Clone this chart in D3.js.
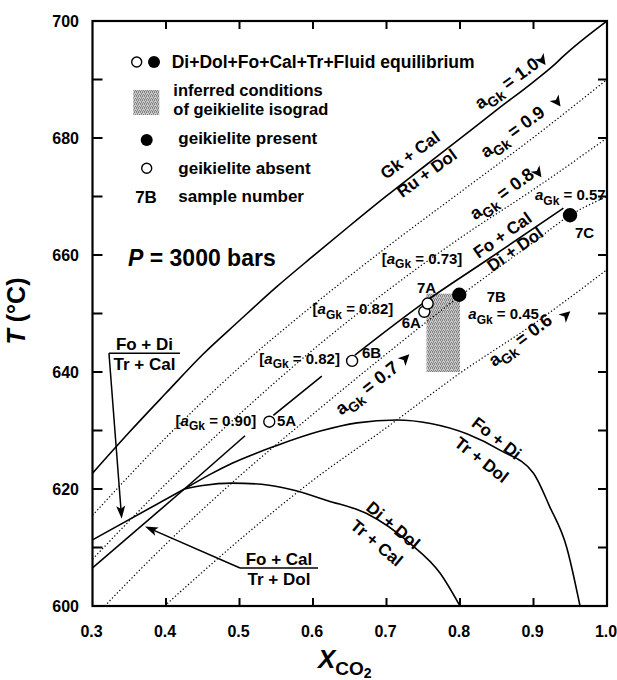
<!DOCTYPE html>
<html><head><meta charset="utf-8">
<script src="https://cdn.jsdelivr.net/npm/d3@7"></script>
<style>
body{margin:0;background:#fff;}
svg{display:block;font-family:"Liberation Sans",Arial,Helvetica,sans-serif;font-weight:bold;}
</style></head><body>
<svg id="chart" width="617" height="680"></svg>
<script>
// ---------------- data ----------------
const xTicks = [0.3,0.4,0.5,0.6,0.7,0.8,0.9,1.0];
const xTickLabels = ["0.3","0.4","0.5","0.6","0.7","0.8","0.9","1.0"];
const yTicks = [600,620,640,660,680,700];
const yMinorTicks = [610,630,650,670,690];

// Gk + Cal = Ru + Dol  (aGk = 1.0), [X_CO2, T]
const aGk10 = [[0.30,622.7],[0.35,629.7],[0.40,636.4],[0.45,643.0],[0.50,648.8],[0.55,654.5],[0.60,659.8],[0.65,665.0],[0.70,670.1],[0.75,675.0],[0.80,679.9],[0.85,684.8],[0.90,689.6],[0.93,692.7],[0.94,693.9],[1.00,700.0]];
const aGk09 = [[0.30,615.5],[0.40,628.8],[0.50,640.8],[0.60,651.4],[0.70,661.3],[0.80,670.7],[0.90,680.1],[1.00,690.0]];
const aGk08 = [[0.30,608.0],[0.40,620.9],[0.50,632.8],[0.60,643.8],[0.70,653.8],[0.80,662.9],[0.90,671.2],[1.00,680.0]];
const aGk07 = [[0.3166,600.0],[0.40,610.6],[0.50,622.2],[0.60,632.8],[0.70,643.1],[0.80,653.0],[0.90,662.2],[0.95,666.8],[1.00,670.0]];
const aGk06 = [[0.398,600.0],[0.50,611.3],[0.60,621.5],[0.70,630.5],[0.80,639.8],[0.90,648.2],[1.00,657.5]];

const foDi_trCal = [[0.30,611.3],[0.425,620.0]];
const foCal_trDol = [[0.30,606.5],[0.425,620.0]];
const foCal_diDol_a = [[0.425,620.0],[0.5075,629.1]];
const foCal_diDol_b = [[0.546,632.6],[0.612,639.3]];
const foCal_diDol_c = [[0.657,642.9],[0.7524,652.0],[0.8363,659.1],[0.9406,668.0]];
const foDi_trDol = [[0.425,620.0],[0.46,622.5],[0.49,624.4],[0.55,627.4],[0.61,629.9],[0.66,631.3],[0.714,631.8],[0.76,631.2],[0.81,629.4],[0.855,626.6],[0.90,622.7],[0.922,617.0],[0.945,610.1],[0.9633,600.0]];
const diDol_trCal = [[0.425,620.0],[0.45,620.6],[0.49,621.0],[0.53,620.8],[0.57,619.9],[0.62,618.0],[0.673,615.8],[0.732,610.7],[0.773,605.6],[0.80,600.0]];

const sampleIds = ["5A","6B","6A","7A","7B","7C"];
const sampleX = [0.5405,0.6532,0.7514,0.756,0.799,0.9497];
const sampleT = [631.5,641.9,650.3,651.7,653.2,666.8];
const samplePresent = [false,false,false,false,true,true];

const isogradX = [0.7544,0.800];
const isogradT = [640.0,653.4];

// ---------------- setup ----------------
const svg = d3.select("#chart");
const x = d3.scaleLinear().domain([0.3,1.0]).range([92.5,607]);
const y = d3.scaleLinear().domain([600,700]).range([606,21]);

const defs = svg.append("defs");
const pat = defs.append("pattern").attr("id","stip").attr("patternUnits","userSpaceOnUse").attr("width",4).attr("height",4);
pat.append("rect").attr("width",4).attr("height",4).attr("fill","#c8c8c8");
[[0,0],[2,0],[1,1],[3,2],[1,2],[0,3],[2,3]].forEach((p,i)=>{
  pat.append("rect").attr("x",p[0]).attr("y",p[1]).attr("width",1).attr("height",1).attr("fill",i%2?"#7a7a7a":"#8c8c8c");
});
defs.append("clipPath").attr("id","plotclip").append("rect")
  .attr("x",x(0.3)).attr("y",y(700)).attr("width",x(1)-x(0.3)).attr("height",y(600)-y(700));

const line = d3.line().x(d=>x(d[0])).y(d=>y(d[1]));
const smooth = d3.line().x(d=>x(d[0])).y(d=>y(d[1])).curve(d3.curveMonotoneX);

const plot = svg.append("g").attr("clip-path","url(#plotclip)");

// isograd shaded box
plot.append("rect")
  .attr("x",x(isogradX[0])).attr("y",y(isogradT[1]))
  .attr("width",x(isogradX[1])-x(isogradX[0])).attr("height",y(isogradT[0])-y(isogradT[1]))
  .attr("fill","url(#stip)");

// dotted isopleths
[aGk09,aGk08,aGk07,aGk06].forEach(d=>{
  plot.append("path").attr("d",smooth(d)).attr("fill","none").attr("stroke","#000")
    .attr("stroke-width",1.2).attr("stroke-dasharray","1.3 2.2");
});
// solid curves
plot.append("path").attr("d",smooth(aGk10)).attr("fill","none").attr("stroke","#000").attr("stroke-width",1.6);
[foDi_trCal,foCal_trDol,foCal_diDol_a,foCal_diDol_b].forEach(d=>{
  plot.append("path").attr("d",line(d)).attr("fill","none").attr("stroke","#000").attr("stroke-width",1.6);
});
[foCal_diDol_c,foDi_trDol,diDol_trCal].forEach(d=>{
  plot.append("path").attr("d",smooth(d)).attr("fill","none").attr("stroke","#000").attr("stroke-width",1.6);
});

// samples
sampleIds.forEach((id,i)=>{
  svg.append("circle").attr("cx",x(sampleX[i])).attr("cy",y(sampleT[i]))
    .attr("r",samplePresent[i]?6.5:5.5)
    .attr("fill",samplePresent[i]?"#000":"#fff").attr("stroke","#000").attr("stroke-width",1.4);
});

// ---------------- axes frame ----------------
const frame = svg.append("g");
frame.append("rect").attr("x",x(0.3)).attr("y",y(700)).attr("width",x(1)-x(0.3)).attr("height",y(600)-y(700))
  .attr("fill","none").attr("stroke","#000").attr("stroke-width",2.2);
const innerX = xTicks.filter(v=>v>0.3 && v<1.0);
innerX.forEach(v=>{
  frame.append("line").attr("x1",x(v)).attr("x2",x(v)).attr("y1",y(600)).attr("y2",y(600)-8).attr("stroke","#000").attr("stroke-width",2);
  frame.append("line").attr("x1",x(v)).attr("x2",x(v)).attr("y1",y(700)).attr("y2",y(700)+8).attr("stroke","#000").attr("stroke-width",2);
});
yTicks.concat(yMinorTicks).filter(v=>v>600 && v<700).forEach(v=>{
  frame.append("line").attr("x1",x(0.3)).attr("x2",x(0.3)+10).attr("y1",y(v)).attr("y2",y(v)).attr("stroke","#000").attr("stroke-width",2);
  frame.append("line").attr("x1",x(1)).attr("x2",x(1)-9).attr("y1",y(v)).attr("y2",y(v)).attr("stroke","#000").attr("stroke-width",2);
});
xTicks.forEach((v,i)=>{
  svg.append("text").attr("x",x(v)-1).attr("y",637).attr("text-anchor","middle").attr("font-size",16).text(xTickLabels[i]);
});
yTicks.forEach(v=>{
  svg.append("text").attr("x",79).attr("y",y(v)).attr("dy","0.36em").attr("text-anchor","end").attr("font-size",16).text(v);
});

// axis titles
const yt = svg.append("text").attr("transform","translate(25,311) rotate(-90)").attr("text-anchor","middle").attr("font-size",25);
yt.append("tspan").attr("font-style","italic").text("T");
yt.append("tspan").text(" (°C)");
const xt = svg.append("text").attr("x",318).attr("y",668).attr("font-size",26);
xt.append("tspan").attr("font-style","italic").text("X");
xt.append("tspan").attr("font-size",19).attr("dy",7).text("CO");
xt.append("tspan").attr("font-size",14).attr("dy",3).text("2");

// ---------------- helpers ----------------
function aLabel(g, pre, post, fs, italicA){
  const t = g.append("text").attr("font-size",fs);
  if(pre) t.append("tspan").text(pre);
  t.append("tspan").attr("font-style",italicA?"italic":"normal").text("a");
  t.append("tspan").attr("font-size",Math.round(fs*0.78)).attr("dy",fs*0.3).text("Gk");
  t.append("tspan").attr("dy",-fs*0.3).text(post);
  return t;
}
const arrowPath = "M6,0 L-5,-5.5 L-2,0 L-5,5.5 Z";

// isopleth labels
const isoLabels = [
  {txt:" = 1.0", X:0.8635, T:689.4, ang:-36, aX:0.9116, aT:693.3, aAng:54},
  {txt:" = 0.9", X:0.8712, T:681.1, ang:-36, aX:0.932, aT:686.2, aAng:54},
  {txt:" = 0.8", X:0.8567, T:670.5, ang:-36, aX:0.906, aT:674.1, aAng:54},
  {txt:" = 0.7", X:0.673, T:637.3, ang:-38, aX:0.7253, aT:642.3, aAng:-45},
  {txt:" = 0.6", X:0.8816, T:645.5, ang:-37, aX:0.944, aT:649.7, aAng:-42}
];
isoLabels.forEach(L=>{
  const g = svg.append("g").attr("transform",`translate(${x(L.X)},${y(L.T)}) rotate(${L.ang})`);
  aLabel(g,"",L.txt,18,false).attr("text-anchor","middle").attr("dy","0.35em");
  svg.append("path").attr("d",arrowPath).attr("fill","#000")
    .attr("transform",`translate(${x(L.aX)},${y(L.aT)}) rotate(${L.aAng})`);
});

// reaction labels along curves
function rotText(txt,X,T,ang,fs){
  svg.append("text").attr("transform",`translate(${x(X)},${y(T)}) rotate(${ang})`)
    .attr("text-anchor","middle").attr("dy","0.35em").attr("font-size",fs).text(txt);
}
rotText("Gk + Cal",0.732,677.1,-36,17);
rotText("Ru + Dol",0.7547,674.0,-36,17);
rotText("Fo + Cal",0.8578,663.4,-35,17);
rotText("Di + Dol",0.8748,661.0,-35,17);
rotText("Fo + Di",0.85,628.7,38,17);
rotText("Tr + Dol",0.8295,625.0,38,17);
rotText("Di + Dol",0.7092,613.8,40,17);
rotText("Tr + Cal",0.6867,610.8,40,17);

// fraction labels with arrows
function fracLabel(top,bot,X0,X1,T,tipX,tipT){
  const xm=(x(X0)+x(X1))/2, yb=y(T);
  svg.append("text").attr("x",xm).attr("y",yb-3).attr("text-anchor","middle").attr("font-size",17).text(top);
  svg.append("line").attr("x1",x(X0)).attr("x2",x(X1)).attr("y1",yb).attr("y2",yb).attr("stroke","#000").attr("stroke-width",1.5);
  svg.append("text").attr("x",xm).attr("y",yb+17).attr("text-anchor","middle").attr("font-size",17).text(bot);
  const sx=x(X0), sy=yb, tx=x(tipX), ty=y(tipT);
  const ang=Math.atan2(ty-sy,tx-sx)*180/Math.PI;
  const len=Math.hypot(tx-sx,ty-sy);
  const g=svg.append("g").attr("transform",`translate(${sx},${sy}) rotate(${ang})`);
  g.append("line").attr("x1",0).attr("y1",0).attr("x2",len-6).attr("y2",0).attr("stroke","#000").attr("stroke-width",1.5);
  g.append("path").attr("d",`M${len},0 L${len-13},-4.5 L${len-10},0 L${len-13},4.5 Z`).attr("fill","#000");
}
fracLabel("Fo + Di","Tr + Cal",0.3224,0.419,643.2,0.3397,614.9);
fracLabel("Fo + Cal","Tr + Dol",0.5007,0.6068,606.5,0.3714,613.6);

// sample labels
function plain(txt,X,T,anchor){
  svg.append("text").attr("x",x(X)).attr("y",y(T)).attr("text-anchor",anchor||"start").attr("font-size",15).text(txt);
}
plain("5A",0.551,630.7);
plain("6B",0.6667,642.4);
plain("6A",0.7207,647.5);
plain("7A",0.7415,653.5);
plain("7B",0.8363,652.0);
plain("7C",0.9565,662.9);
function aText(pre,post,X,T,anchor){
  const g=svg.append("g").attr("transform",`translate(${x(X)},${y(T)})`);
  aLabel(g,pre,post,15,true).attr("text-anchor",anchor||"start");
}
aText("[","  = 0.90]",0.5228,630.8,"end");
aText("[","  = 0.82]",0.6367,641.4,"end");
aText("[","  = 0.82]",0.7092,649.9,"end");
aText("[","  = 0.73]",0.6935,658.5,"start");
aText(""," = 0.45",0.8113,649.0,"start");
aText(""," = 0.57",0.902,669.4,"start");

// P = 3000 bars
const pt = svg.append("text").attr("x",128).attr("y",266).attr("font-size",23);
pt.append("tspan").attr("font-style","italic").text("P");
pt.append("tspan").text(" = 3000 bars");

// ---------------- legend ----------------
const lg = svg.append("g");
lg.append("circle").attr("cx",136.7).attr("cy",62).attr("r",5).attr("fill","#fff").attr("stroke","#000").attr("stroke-width",1.4);
lg.append("circle").attr("cx",154).attr("cy",62).attr("r",6).attr("fill","#000");
lg.append("text").attr("x",171.7).attr("y",68).attr("font-size",17.5).text("Di+Dol+Fo+Cal+Tr+Fluid equilibrium");
lg.append("rect").attr("x",133.3).attr("y",90).attr("width",26).attr("height",25).attr("fill","url(#stip)");
lg.append("text").attr("x",173.3).attr("y",96).attr("font-size",16.5).text("inferred conditions");
lg.append("text").attr("x",173.3).attr("y",114.5).attr("font-size",16.5).text("of geikielite isograd");
lg.append("circle").attr("cx",146.7).attr("cy",140).attr("r",6).attr("fill","#000");
lg.append("text").attr("x",178.3).attr("y",144).attr("font-size",17).text("geikielite present");
lg.append("circle").attr("cx",146.7).attr("cy",168.3).attr("r",5).attr("fill","#fff").attr("stroke","#000").attr("stroke-width",1.4);
lg.append("text").attr("x",178.3).attr("y",174).attr("font-size",17).text("geikielite absent");
lg.append("text").attr("x",146).attr("y",203).attr("text-anchor","middle").attr("font-size",17).text("7B");
lg.append("text").attr("x",178.3).attr("y",202).attr("font-size",17).text("sample number");
</script>
</body></html>
